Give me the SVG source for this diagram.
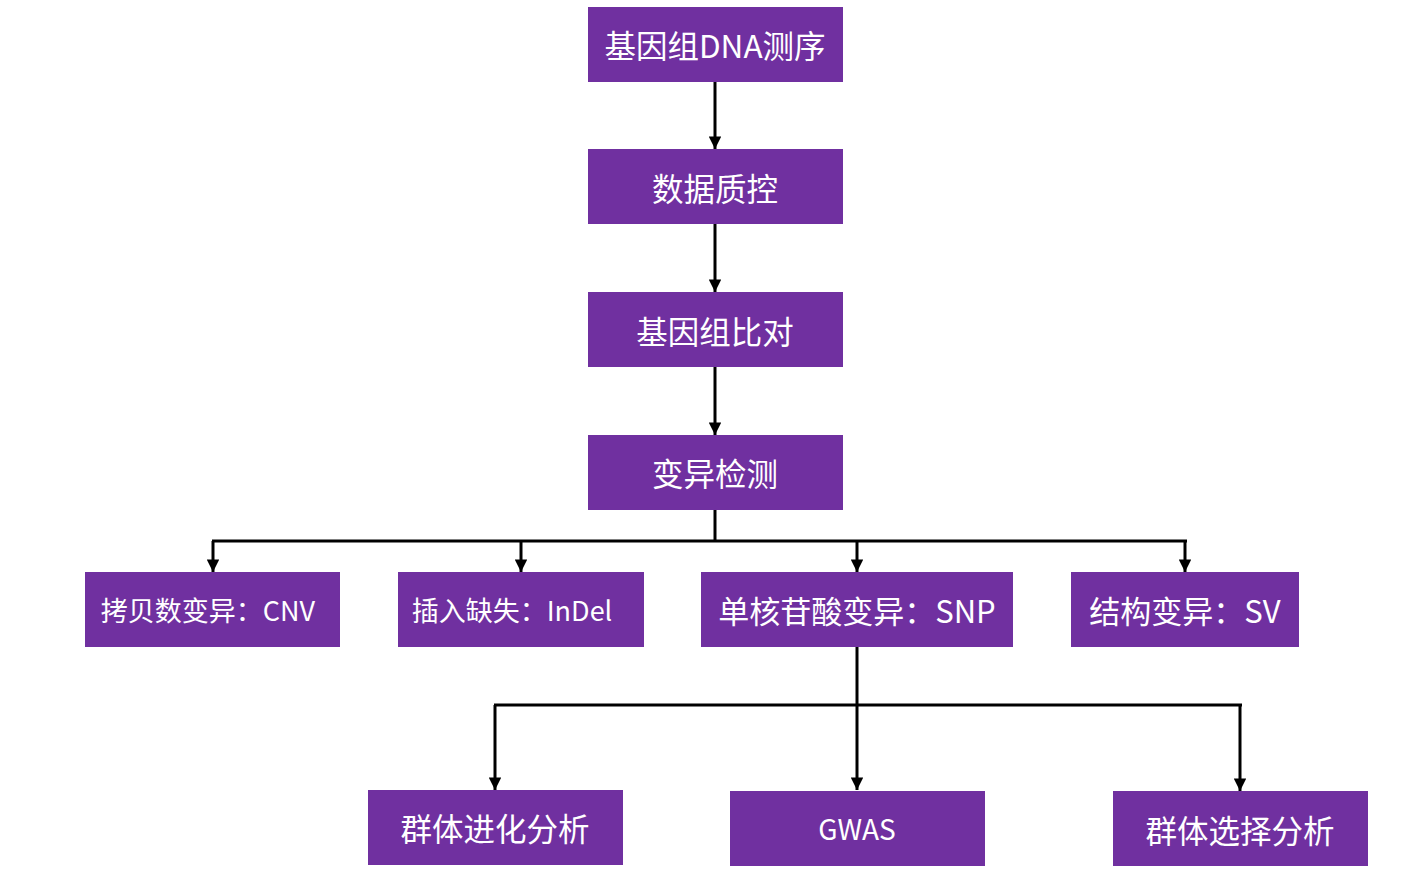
<svg xmlns="http://www.w3.org/2000/svg" width="1406" height="880" viewBox="0 0 1406 880">
<style>
.box{fill:#7030A0}
.t{fill:#fff;font-family:"Noto Sans CJK SC","Noto Sans",sans-serif;text-anchor:middle;dominant-baseline:central}
.l{fill:none;stroke:#000;stroke-width:3}
</style>
<defs>
<marker id="a" viewBox="0 0 10 10" refX="10" refY="5" markerWidth="4.2" markerHeight="4.2" markerUnits="strokeWidth" orient="auto">
<path d="M0,0 L10,5 L0,10 z" fill="#000"/>
</marker>
</defs>
<rect width="1406" height="880" fill="#fff"/>
<g id="connectors">
<line class="l" x1="715" y1="82" x2="715" y2="149" marker-end="url(#a)"/>
<line class="l" x1="715" y1="224" x2="715" y2="292" marker-end="url(#a)"/>
<line class="l" x1="715" y1="367" x2="715" y2="435" marker-end="url(#a)"/>
<line class="l" x1="715" y1="510" x2="715" y2="541"/>
<line class="l" x1="212" y1="541" x2="1187" y2="541"/>
<path class="l" d="M213,541 V572" marker-end="url(#a)"/>
<path class="l" d="M521,541 V572" marker-end="url(#a)"/>
<path class="l" d="M857,541 V572" marker-end="url(#a)"/>
<path class="l" d="M1185,541 V572" marker-end="url(#a)"/>
<path class="l" d="M857,647 V790" marker-end="url(#a)"/>
<line class="l" x1="494" y1="705" x2="1242" y2="705"/>
<path class="l" d="M495,705 V790" marker-end="url(#a)"/>
<path class="l" d="M1240,705 V791" marker-end="url(#a)"/>
</g>
<g id="n1"><rect class="box" x="588" y="7" width="255" height="75"/><text class="t" x="715" y="44" font-size="31.5">基因组DNA测序</text></g>
<g id="n2"><rect class="box" x="588" y="149" width="255" height="75"/><text class="t" x="715" y="187" font-size="31.5">数据质控</text></g>
<g id="n3"><rect class="box" x="588" y="292" width="255" height="75"/><text class="t" x="715" y="330" font-size="31.5">基因组比对</text></g>
<g id="n4"><rect class="box" x="588" y="435" width="255" height="75"/><text class="t" x="715" y="472" font-size="31.5">变异检测</text></g>
<g id="n5"><rect class="box" x="85" y="572" width="255" height="75"/><text class="t" x="208" y="609" font-size="27">拷贝数变异：CNV</text></g>
<g id="n6"><rect class="box" x="398" y="572" width="246" height="75"/><text class="t" x="512" y="609" font-size="27">插入缺失：InDel</text></g>
<g id="n7"><rect class="box" x="701" y="572" width="312" height="75"/><text class="t" x="857" y="609" font-size="31">单核苷酸变异：SNP</text></g>
<g id="n8"><rect class="box" x="1071" y="572" width="228" height="75"/><text class="t" x="1185" y="609" font-size="31">结构变异：SV</text></g>
<g id="n9"><rect class="box" x="368" y="790" width="255" height="75"/><text class="t" x="495" y="827" font-size="31.5">群体进化分析</text></g>
<g id="n10"><rect class="box" x="730" y="791" width="255" height="75"/><text class="t" x="857" y="828" font-size="28">GWAS</text></g>
<g id="n11"><rect class="box" x="1113" y="791" width="255" height="75"/><text class="t" x="1240" y="829" font-size="31.5">群体选择分析</text></g>
</svg>
